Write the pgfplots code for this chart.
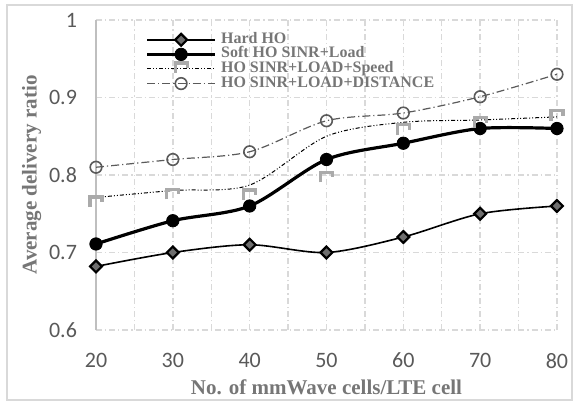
\documentclass[border=0pt]{standalone}
\usepackage{fontspec}
\setmainfont{Liberation Serif}
\newfontfamily\tickfont{Carlito}
\usepackage{pgfplots}
\pgfplotsset{compat=1.18}

\definecolor{gridgray}{RGB}{217,217,217}
\definecolor{ticktext}{RGB}{89,89,89}
\definecolor{labeltext}{RGB}{118,118,118}
\definecolor{hardfill}{RGB}{110,110,110}
\definecolor{distgray}{RGB}{90,90,90}
\definecolor{speedgray}{RGB}{170,170,170}

% open-bottom square used for the Speed series
\pgfdeclareplotmark{gammabox}{%
  \pgfpathmoveto{\pgfqpoint{-\pgfplotmarksize}{-0.7\pgfplotmarksize}}%
  \pgfpathlineto{\pgfqpoint{-\pgfplotmarksize}{\pgfplotmarksize}}%
  \pgfpathlineto{\pgfqpoint{\pgfplotmarksize}{\pgfplotmarksize}}%
  \pgfpathlineto{\pgfqpoint{\pgfplotmarksize}{0.2\pgfplotmarksize}}%
  \pgfusepathqstroke}

\begin{document}
\begin{tikzpicture}
\begin{axis}[
  scale only axis,
  width=230.5pt, height=155pt,
  xmin=20, xmax=80, ymin=0.6, ymax=1,
  xtick={20,30,...,80}, ytick={0.6,0.7,...,1.0},
  minor x tick num=1,
  yticklabels={0.6,0.7,0.8,0.9,1},
  major tick length=0pt, minor tick length=0pt,
  grid=both,
  major grid style={gridgray, line width=0.7pt, dash pattern=on 3pt off 1.5pt on 0.6pt off 1.5pt},
  minor grid style={gridgray, line width=0.7pt, dash pattern=on 3pt off 1.5pt on 0.6pt off 1.5pt},
  axis x line*=bottom, axis y line*=left,
  x axis line style={draw=none},
  y axis line style={gray!50, line width=0.6pt},
  tick label style={font=\tickfont\fontsize{11}{13}\selectfont, text=ticktext},
  /pgf/number format/assume math mode=true,
  xticklabel style={yshift=-8pt},
  yticklabel style={xshift=-6pt},
  xlabel={\textbf{No. of mmWave cells/LTE cell}},
  ylabel={\textbf{Average delivery ratio}},
  label style={font=\fontsize{10.5}{12}\selectfont, text=labeltext},
  xlabel style={yshift=1pt},
  ylabel style={yshift=-3pt},
  legend style={draw=none, fill=none, at={(0.11,0.962)}, anchor=north west,
    font=\bfseries\fontsize{8}{9}\selectfont, text=labeltext,
    row sep=-0.3pt, inner sep=0pt, column sep=0pt,
    nodes={inner sep=0pt, text height=5.6pt, text depth=2pt}},
  legend cell align=left,
  legend image code/.code={%
    \draw[#1,mark=none,overlay] (0pt,0pt) -- (34pt,0pt);
    \draw[#1,solid,overlay] plot coordinates {(17pt,0pt)};
    \path[draw=none,fill=none] (0pt,-3pt) rectangle (37pt,3pt);},
]
\addplot[black, line width=0.8pt, smooth, mark=square*, mark size=2.1pt,
  mark options={solid, rotate=45, fill=hardfill, draw=black, line width=1.1pt}]
  coordinates {(20,0.682) (30,0.70) (40,0.71) (50,0.70) (60,0.72) (70,0.75) (80,0.76)};
\addlegendentry{Hard HO}

\addplot[black, line width=1.6pt, smooth, mark=*, mark size=3.1pt,
  mark options={solid, fill=black, line width=0.4pt}]
  coordinates {(20,0.711) (30,0.741) (40,0.76) (50,0.82) (60,0.841) (70,0.86) (80,0.86)};
\addlegendentry{Soft HO SINR+Load}

% Speed: smooth line, marks drawn as their own series
\addplot[black, line width=0.5pt, smooth, forget plot,
  dash pattern=on 2pt off 1pt on 0.5pt off 1pt on 0.5pt off 1pt]
  coordinates {(20,0.771) (30,0.78) (40,0.787) (50,0.85) (60,0.868) (70,0.871) (80,0.875)};
\addplot[black, line width=0.5pt, only marks,
  dash pattern=on 2pt off 1pt on 0.5pt off 1pt on 0.5pt off 1pt,
  mark=gammabox, mark size=3pt, mark options={solid, draw=speedgray, line width=1.6pt}]
  coordinates {(20,0.764) (30,0.774) (40,0.773) (50,0.796) (60,0.857) (70,0.866) (80,0.875)};
\addlegendentry{HO SINR+LOAD+Speed}

\addplot[distgray, line width=0.6pt, smooth, dash pattern=on 4pt off 1.5pt on 0.6pt off 1.5pt,
  mark=o, mark size=2.9pt, mark options={solid, draw=distgray, line width=0.8pt, fill=white}]
  coordinates {(20,0.81) (30,0.82) (40,0.83) (50,0.87) (60,0.88) (70,0.901) (80,0.93)};
\addlegendentry{HO SINR+LOAD+DISTANCE}
\end{axis}
\draw[gridgray, line width=0.6pt] (-44.5pt,-35pt) rectangle (238pt,162.5pt);
\useasboundingbox (-48pt,-36.5pt) rectangle (242pt,165pt);
\end{tikzpicture}
\end{document}
